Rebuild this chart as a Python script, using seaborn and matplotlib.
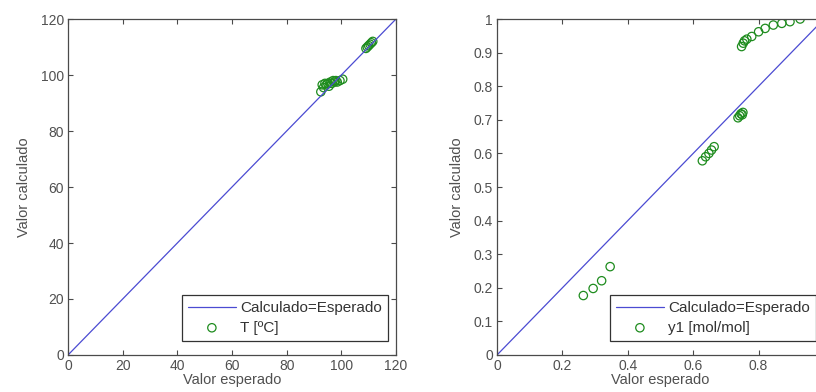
"""Valor esperado vs valor calculado: T and y1 parity plots (MATLAB-style)."""

import matplotlib

matplotlib.use("Agg")
import matplotlib.pyplot as plt
import matplotlib.ticker as mticker
import seaborn as sns

# ---- data ------------------------------------------------------------------
T_ESPERADO = [92.5, 93.0, 93.5, 94.0, 94.5, 95.0, 95.5, 96.0, 96.5, 97.0, 97.5,
              98.0, 98.5, 99.5, 100.5, 109.0, 109.5, 110.0, 110.5, 111.0, 111.5]
T_CALCULADO = [94.0, 96.5, 95.5, 97.0, 96.5, 97.0, 96.0, 97.5, 97.0, 98.0, 97.5,
               98.0, 97.5, 98.0, 98.5, 109.5, 110.0, 110.5, 111.0, 111.5, 112.0]
T_DIAG = [0, 120]

Y1_ESPERADO = [0.264, 0.294, 0.320, 0.346,
               0.628, 0.638, 0.648, 0.656, 0.664,
               0.737, 0.742, 0.746, 0.750, 0.752,
               0.748, 0.753, 0.757, 0.764, 0.779, 0.800, 0.820, 0.845, 0.871, 0.896, 0.927]
Y1_CALCULADO = [0.177, 0.198, 0.221, 0.263,
                0.578, 0.590, 0.600, 0.610, 0.620,
                0.706, 0.712, 0.718, 0.715, 0.722,
                0.918, 0.928, 0.935, 0.940, 0.948, 0.962, 0.972, 0.982, 0.987, 0.992, 1.000]
Y1_DIAG = [0, 1]

T_TICKS = [0, 20, 40, 60, 80, 100, 120]
# the tick at 1 falls just past the cropped right edge of the figure
Y1_XTICKS = [0, 0.2, 0.4, 0.6, 0.8]
Y1_YTICKS = [0, 0.1, 0.2, 0.3, 0.4, 0.5, 0.6, 0.7, 0.8, 0.9, 1.0]

# ---- style -----------------------------------------------------------------
sns.set_theme(style="ticks")
plt.rcParams["font.family"] = ["Liberation Sans", "DejaVu Sans"]
BLUE = "#4b4bd2"
GREEN = "#1e8c1e"
TEXT = "#505050"
SPINE = "#4a4a4a"

W, H = 816, 392
fig = plt.figure(figsize=(W / 100, H / 100), dpi=100)
ax1 = fig.add_axes([68 / W, (H - 355) / H, 328 / W, 336 / H])
ax2 = fig.add_axes([497 / W, (H - 355) / H, 327 / W, 336 / H])


def panel(ax, xe, yc, diag, label, xticks, yticks, lim):
    sns.lineplot(x=diag, y=diag, color=BLUE, lw=0.9, ax=ax, label="Calculado=Esperado")
    sns.scatterplot(x=xe, y=yc, marker="o", s=36, facecolor="none",
                    edgecolor=GREEN, linewidth=0.9, ax=ax, label=label)
    ax.set_xlim(*lim)
    ax.set_ylim(*lim)
    ax.set_xticks(xticks)
    ax.set_yticks(yticks)
    fmt = mticker.FuncFormatter(lambda v, _: f"{v:g}")
    ax.xaxis.set_major_formatter(fmt)
    ax.yaxis.set_major_formatter(fmt)
    ax.tick_params(direction="in", length=3.5, width=0.8, color=SPINE,
                   top=True, right=True, labelsize=10, labelcolor=TEXT, pad=3)
    for s in ax.spines.values():
        s.set_visible(True)
        s.set_color(SPINE)
        s.set_linewidth(0.9)
    ax.set_xlabel("Valor esperado", fontsize=10.5, color=TEXT, labelpad=0)
    ax.set_ylabel("Valor calculado", fontsize=10.5, color=TEXT, labelpad=7)
    leg = ax.legend(loc="lower right", bbox_to_anchor=(0.9756, 0.042), borderaxespad=0,
                    fontsize=11, frameon=True, fancybox=False, framealpha=1,
                    edgecolor="#333333", handlelength=3.1, borderpad=0.4,
                    labelspacing=0.35, handletextpad=0.3)
    leg.get_frame().set_linewidth(0.9)
    for t in leg.get_texts():
        t.set_color("#333333")


panel(ax1, T_ESPERADO, T_CALCULADO, T_DIAG, "T [ºC]", T_TICKS, T_TICKS, (0, 120))
panel(ax2, Y1_ESPERADO, Y1_CALCULADO, Y1_DIAG, "y1 [mol/mol]", Y1_XTICKS, Y1_YTICKS, (0, 1))

fig.savefig("out.png", dpi=100)
